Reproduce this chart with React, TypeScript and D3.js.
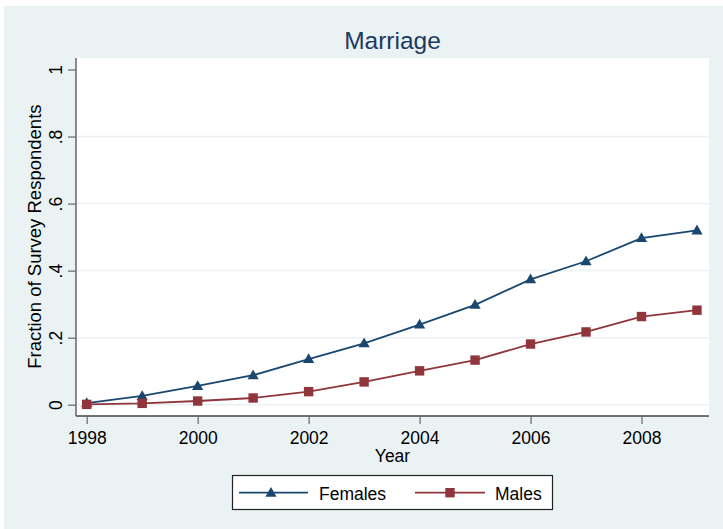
import React, { useEffect, useRef } from "react";
import * as d3 from "d3";

// data
const years = [1998, 1999, 2000, 2001, 2002, 2003, 2004, 2005, 2006, 2007, 2008, 2009];
const females = [0.005, 0.026, 0.056, 0.088, 0.136, 0.183, 0.239, 0.298, 0.374, 0.428, 0.497, 0.52];
const males = [0.001, 0.004, 0.011, 0.02, 0.039, 0.068, 0.101, 0.133, 0.181, 0.217, 0.263, 0.282];
const yTicks = [0, 0.2, 0.4, 0.6, 0.8, 1];
const xTicks = [1998, 2000, 2002, 2004, 2006, 2008];
const gridTicks = [0, 0.2, 0.4, 0.6, 0.8];

const NAVY = "#1a476f";
const MAROON = "#90353b";
const BG = "#eaf2f3";
const FONT = "'Liberation Sans', Arial, sans-serif";

const App: React.FC = () => {
  const svgRef = useRef<SVGSVGElement | null>(null);

  useEffect(() => {
    const width = 723;
    const height = 529;
    const plotLeft = 76;
    const plotRight = 709;
    const plotTop = 58;
    const plotBottom = 416;

    const x = d3.scaleLinear().domain([1998, 2008]).range([86.7, 641.5]);
    const y = d3.scaleLinear().domain([0, 1]).range([404.7, 69.5]);

    const svg = d3.select(svgRef.current);
    svg.selectAll("*").remove();
    svg.attr("width", width).attr("height", height).style("display", "block");

    svg.append("rect").attr("width", width).attr("height", height).attr("fill", "#ffffff");
    svg.append("rect").attr("x", 4).attr("y", 6).attr("width", width - 4).attr("height", height - 6).attr("fill", BG);

    // plot region
    svg
      .append("rect")
      .attr("x", plotLeft)
      .attr("y", plotTop)
      .attr("width", plotRight - plotLeft)
      .attr("height", plotBottom - plotTop)
      .attr("fill", "#ffffff");

    // gridlines
    svg
      .append("g")
      .selectAll("line")
      .data(gridTicks)
      .enter()
      .append("line")
      .attr("x1", plotLeft)
      .attr("x2", plotRight)
      .attr("y1", (d) => y(d))
      .attr("y2", (d) => y(d))
      .attr("stroke", BG)
      .attr("stroke-width", 1.5);

    // y axis
    const gy = svg
      .append("g")
      .attr("transform", `translate(${plotLeft},0)`)
      .call(d3.axisLeft(y).tickValues(yTicks).tickSize(8).tickPadding(7).tickFormat((d) => (d === 0 ? "0" : d === 1 ? "1" : d3.format(".1f")(d as number).replace(/^0/, ""))));
    gy.select(".domain").attr("d", `M0,${plotTop}V${plotBottom}`).attr("stroke", "#666").attr("stroke-width", 1.5);
    gy.selectAll(".tick line").attr("stroke", "#666").attr("stroke-width", 1.2);
    gy.selectAll(".tick text")
      .attr("x", null)
      .attr("dy", null)
      .attr("transform", "translate(-14.5,0) rotate(-90)")
      .attr("text-anchor", "middle")
      .attr("fill", "#000")
      .style("font", `17.5px ${FONT}`);

    // x axis
    const gx = svg
      .append("g")
      .attr("transform", `translate(0,${plotBottom})`)
      .call(d3.axisBottom(x).tickValues(xTicks).tickSize(8).tickPadding(4).tickFormat(d3.format("d")));
    gx.select(".domain").attr("d", `M${plotLeft},0H${plotRight}`).attr("stroke", "#444").attr("stroke-width", 1.5);
    gx.selectAll(".tick line").attr("stroke", "#666").attr("stroke-width", 1.2);
    gx.selectAll(".tick text")
      .attr("y", 28)
      .attr("dy", null)
      .attr("fill", "#000")
      .style("font", `17.5px ${FONT}`);

    // titles
    svg
      .append("text")
      .attr("x", 392.5)
      .attr("y", 49)
      .attr("text-anchor", "middle")
      .attr("fill", "#1c3a63")
      .style("font", `24.5px ${FONT}`)
      .text("Marriage");
    svg
      .append("text")
      .attr("x", 392.5)
      .attr("y", 462)
      .attr("text-anchor", "middle")
      .attr("fill", "#000")
      .style("font", `17.5px ${FONT}`)
      .text("Year");
    svg
      .append("text")
      .attr("transform", `translate(40.5,236.6) rotate(-90)`)
      .attr("text-anchor", "middle")
      .attr("fill", "#000")
      .style("font", `18.5px ${FONT}`)
      .text("Fraction of Survey Respondents");

    const line = d3
      .line<number>()
      .x((_, i) => x(years[i]))
      .y((d) => y(d));

    const triangle = (cx: number, cy: number) => `M${cx},${cy - 5.8}L${cx + 5.6},${cy + 4}L${cx - 5.6},${cy + 4}Z`;

    // females
    svg.append("path").datum(females).attr("d", line).attr("fill", "none").attr("stroke", NAVY).attr("stroke-width", 1.8);
    svg
      .append("g")
      .selectAll("path")
      .data(females)
      .enter()
      .append("path")
      .attr("d", (d, i) => triangle(x(years[i]), y(d)))
      .attr("fill", NAVY);

    // males
    svg.append("path").datum(males).attr("d", line).attr("fill", "none").attr("stroke", MAROON).attr("stroke-width", 1.8);
    svg
      .append("g")
      .selectAll("rect")
      .data(males)
      .enter()
      .append("rect")
      .attr("x", (_, i) => x(years[i]) - 4.7)
      .attr("y", (d) => y(d) - 4.7)
      .attr("width", 9.4)
      .attr("height", 9.4)
      .attr("fill", MAROON);

    // legend
    const lg = svg.append("g");
    lg.append("rect")
      .attr("x", 232.5)
      .attr("y", 475.5)
      .attr("width", 320)
      .attr("height", 34)
      .attr("fill", "#fff")
      .attr("stroke", "#222")
      .attr("stroke-width", 1.2);
    const ly = 492.7;
    lg.append("line").attr("x1", 239).attr("x2", 308).attr("y1", ly).attr("y2", ly).attr("stroke", NAVY).attr("stroke-width", 1.8);
    lg.append("path").attr("d", triangle(271, ly)).attr("fill", NAVY);
    lg.append("text")
      .attr("x", 319)
      .attr("y", 499.5)
      .attr("fill", "#000")
      .style("font", `17.5px ${FONT}`)
      .text("Females");
    lg.append("line").attr("x1", 415).attr("x2", 485).attr("y1", ly).attr("y2", ly).attr("stroke", MAROON).attr("stroke-width", 1.8);
    lg.append("rect").attr("x", 450 - 4.7).attr("y", ly - 4.7).attr("width", 9.4).attr("height", 9.4).attr("fill", MAROON);
    lg.append("text")
      .attr("x", 495)
      .attr("y", 499.5)
      .attr("fill", "#000")
      .style("font", `17.5px ${FONT}`)
      .text("Males");
  }, []);

  return (
    <div>
      <style>{"body{margin:0}"}</style>
      <svg ref={svgRef}></svg>
    </div>
  );
};

export default App;
